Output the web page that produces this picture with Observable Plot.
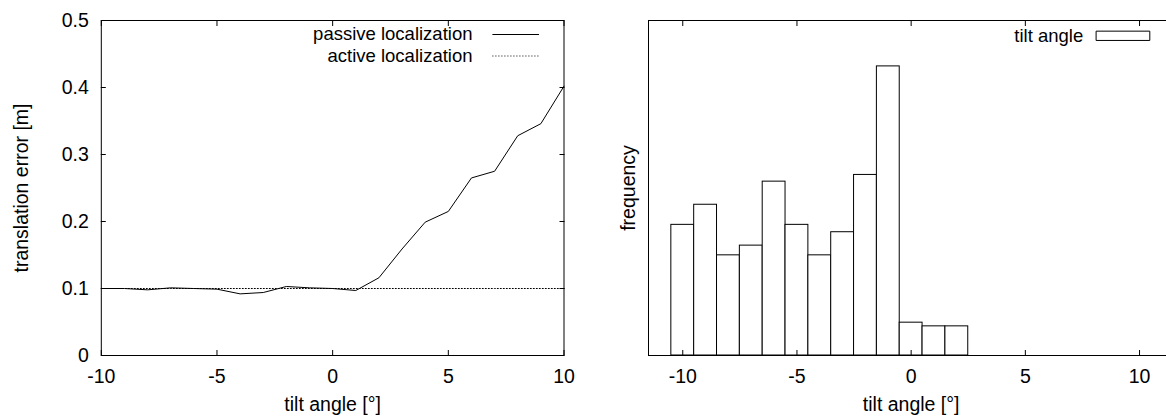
<!DOCTYPE html>
<html><head><meta charset="utf-8">
<script src="https://cdn.jsdelivr.net/npm/d3@7"></script>
<script src="https://cdn.jsdelivr.net/npm/@observablehq/plot@0.6"></script>
<style>
html,body{margin:0;padding:0;background:#fff;}
#wrap{position:relative;width:1166px;height:416px;overflow:hidden;background:#fff;}
#left{position:absolute;left:0;top:0;width:583px;height:416px;}
#right{position:absolute;left:583px;top:0;width:600px;height:416px;}
#wrap svg{max-width:none !important;display:block;}
</style></head><body>
<div id="wrap"><div id="left"></div><div id="right"></div></div>
<script>
// ---- data ----
const tiltAngles = [-10,-9,-8,-7,-6,-5,-4,-3,-2,-1,0,1,2,3,4,5,6,7,8,9,10];
const passiveError = [0.100,0.100,0.098,0.101,0.100,0.099,0.092,0.094,0.103,0.101,0.100,0.097,0.116,0.159,0.199,0.215,0.265,0.275,0.328,0.346,0.402];
const activeError = [0.1,0.1,0.1,0.1,0.1,0.1,0.1,0.1,0.1,0.1,0.1,0.1,0.1,0.1,0.1,0.1,0.1,0.1,0.1,0.1,0.1];
const histAngles = [-10,-9,-8,-7,-6,-5,-4,-3,-2,-1,0,1,2];
const histFrequency = [39.0,45.0,29.9,32.8,51.9,39.0,29.9,36.8,53.9,86.3,9.8,8.7,8.7];
const histBinWidth = 1;
const xTickValues = [-10,-5,0,5,10];
const yTickValues = [0,0.1,0.2,0.3,0.4,0.5];
const seriesNames = ["passive localization","active localization"];
const histName = "tilt angle";
const xLabel = "tilt angle [°]";
const yLabelLeft = "translation error [m]";
const yLabelRight = "frequency";

// ---- derived tables ----
const passiveRows = tiltAngles.map((a,i)=>({angle:a, error:passiveError[i]}));
const activeRows = tiltAngles.map((a,i)=>({angle:a, error:activeError[i]}));
const histRows = histAngles.map((a,i)=>({x1:a-histBinWidth/2, x2:a+histBinWidth/2, f:histFrequency[i]}));

const FONT = "'Liberation Sans', Arial, Helvetica, sans-serif";
const FS = 19.5;
const LFS = 18.5;
const style = {fontFamily: FONT, fontSize: FS + "px", background: "white", color: "black", overflow: "visible", maxWidth: "none"};
const lineShape = {draw(ctx, l){ ctx.moveTo(0,0); ctx.lineTo(0,-l); }};
const boxShape = {draw(ctx, l){ ctx.rect(0,-4.65,l,9.3); }};
const fmt = d => String(d);

const left = Plot.plot({
  width: 583, height: 416,
  marginLeft: 100.8, marginRight: 19.5, marginTop: 20, marginBottom: 61,
  x: {domain: [-10, 10]},
  y: {domain: [0, 0.5]},
  style,
  marks: [
    Plot.line(activeRows, {x:"angle", y:"error", stroke:"black", strokeWidth:1, strokeDasharray:"1,2"}),
    Plot.line(passiveRows, {x:"angle", y:"error", stroke:"black", strokeWidth:1}),
    Plot.frame({stroke:"black", strokeWidth:1}),
    Plot.axisX(xTickValues, {anchor:"bottom", tickSize:5, dy:-5, fill:"none", label:null}),
    Plot.axisX(xTickValues, {anchor:"top", tickSize:5, dy:5, fill:"none", label:null}),
    Plot.axisX(xTickValues, {anchor:"bottom", tickSize:0, tickPadding:14, tickFormat:fmt, label:null, fontSize:FS}),
    Plot.axisY(yTickValues, {anchor:"left", tickSize:5, dx:5, fill:"none", label:null}),
    Plot.axisY(yTickValues, {anchor:"right", tickSize:5, dx:-5, fill:"none", label:null}),
    Plot.axisY(yTickValues, {anchor:"left", tickSize:0, tickPadding:12.5, tickFormat:fmt, label:null, fontSize:FS}),
    Plot.text([xLabel], {text:d=>d, frameAnchor:"bottom", textAnchor:"middle", lineAnchor:"bottom", dy:55, fontSize:FS}),
    Plot.text([yLabelLeft], {text:d=>d, frameAnchor:"left", textAnchor:"middle", lineAnchor:"middle", rotate:-90, dx:-80, fontSize:FS}),
    // legend
    Plot.text([seriesNames[0]], {text:d=>d, frameAnchor:"top-right", textAnchor:"end", lineAnchor:"middle", dx:-91.5, dy:14, fontSize:LFS}),
    Plot.text([seriesNames[1]], {text:d=>d, frameAnchor:"top-right", textAnchor:"end", lineAnchor:"middle", dx:-91.5, dy:35.5, fontSize:LFS}),
    Plot.vector([seriesNames[0]], {frameAnchor:"top-right", dx:-71.6, dy:14, length:46.6, rotate:90, anchor:"start", shape:lineShape, stroke:"black", strokeWidth:1, strokeLinecap:"butt"}),
    Plot.vector([seriesNames[1]], {frameAnchor:"top-right", dx:-71.6, dy:35.5, length:46.6, rotate:90, anchor:"start", shape:lineShape, stroke:"black", strokeWidth:1, strokeLinecap:"butt", strokeDasharray:"1,2"})
  ]
});
document.getElementById("left").appendChild(left);

const right = Plot.plot({
  width: 600, height: 416,
  marginLeft: 65, marginRight: 9.7, marginTop: 20, marginBottom: 61,
  x: {domain: [-11.5, 11.5]},
  y: {domain: [0, 100], axis: null},
  style,
  marks: [
    Plot.rect(histRows, {x1:"x1", x2:"x2", y1:0, y2:"f", fill:"white", stroke:"black", strokeWidth:1}),
    Plot.frame({stroke:"black", strokeWidth:1}),
    Plot.axisX(xTickValues, {anchor:"bottom", tickSize:5, dy:-5, fill:"none", label:null}),
    Plot.axisX(xTickValues, {anchor:"top", tickSize:5, dy:5, fill:"none", label:null}),
    Plot.axisX(xTickValues, {anchor:"bottom", tickSize:0, tickPadding:14, tickFormat:fmt, label:null, fontSize:FS}),
    Plot.text([xLabel], {text:d=>d, frameAnchor:"bottom", textAnchor:"middle", lineAnchor:"bottom", dy:55, fontSize:FS}),
    Plot.text([yLabelRight], {text:d=>d, frameAnchor:"left", textAnchor:"middle", lineAnchor:"middle", rotate:-90, dx:-20, fontSize:FS}),
    Plot.text([histName], {text:d=>d, frameAnchor:"top-right", textAnchor:"end", lineAnchor:"middle", dx:-90.6, dy:15.3, fontSize:LFS}),
    Plot.vector([histName], {frameAnchor:"top-right", dx:-77.3, dy:15.3, length:53.3, rotate:0, anchor:"start", shape:boxShape, fill:"white", stroke:"black", strokeWidth:1})
  ]
});
document.getElementById("right").appendChild(right);
</script>
</body></html>
